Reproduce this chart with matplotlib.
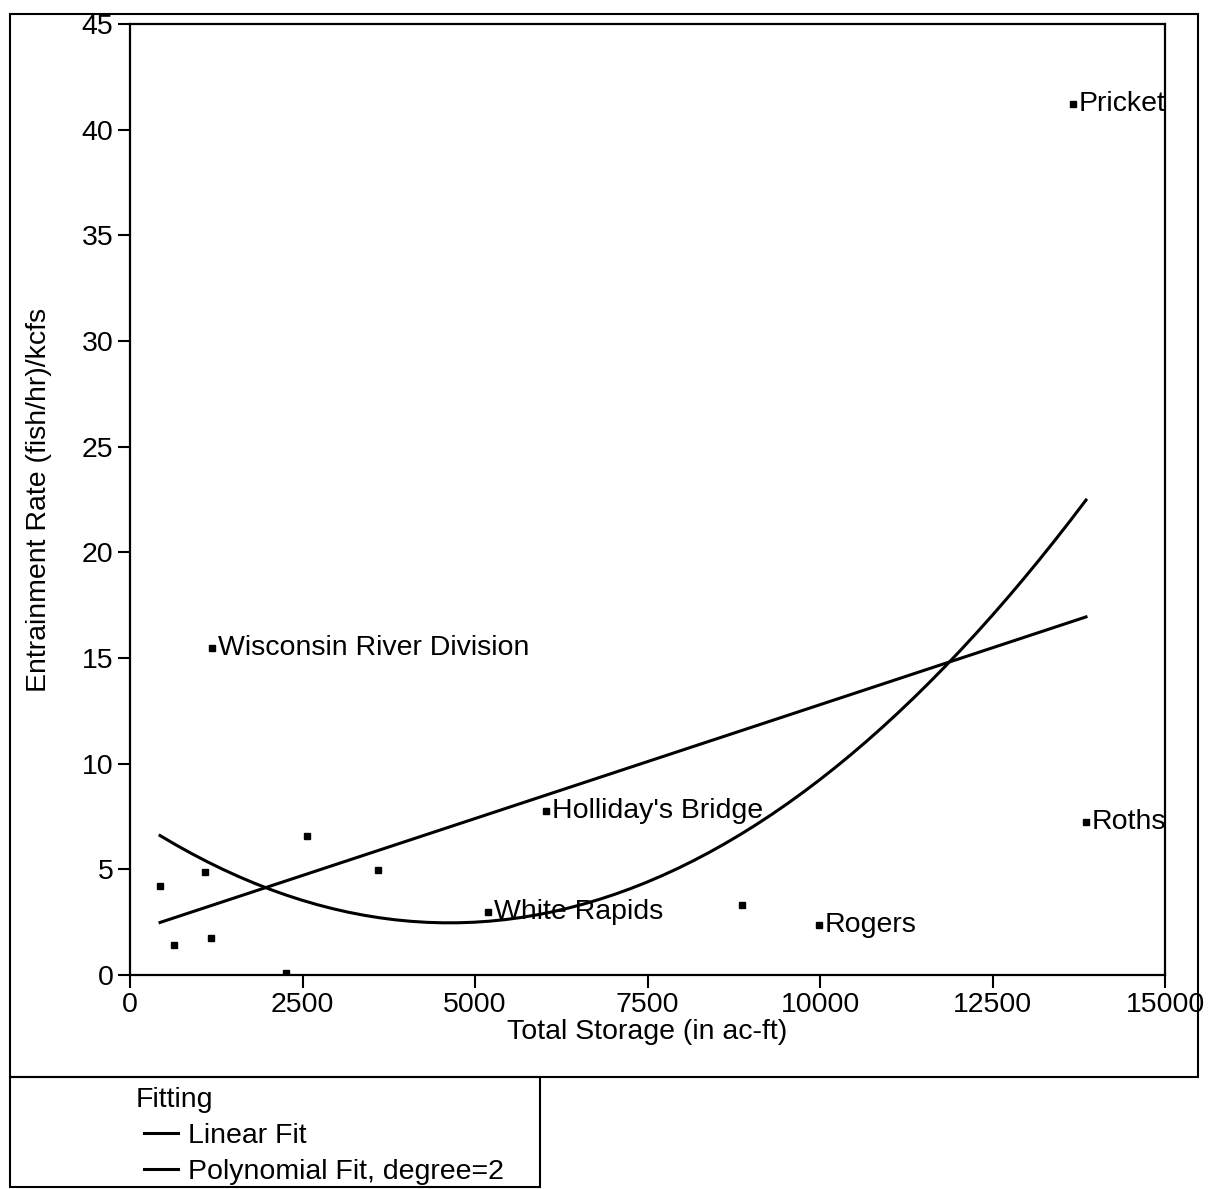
import numpy as np
import matplotlib
matplotlib.use("Agg")
import matplotlib.pyplot as plt
from matplotlib.patches import Rectangle

plt.rcParams['font.family'] = ['Liberation Sans', 'DejaVu Sans']

# Data
storage = [435, 638, 1087, 1174, 2261, 2565, 3594, 5188, 6029, 8870, 9986, 13855, 13667, 1188]
rate = [4.2, 1.42, 4.87, 1.75, 0.1, 6.58, 4.97, 2.98, 7.76, 3.31, 2.37, 7.24, 41.2, 15.48]
names = ["", "", "", "", "", "", "", "White Rapids", "Holliday's Bridge", "", "Rogers",
         "Roths", "Pricket", "Wisconsin River Division"]
x_ticks = [0, 2500, 5000, 7500, 10000, 12500, 15000]
y_ticks = [0, 5, 10, 15, 20, 25, 30, 35, 40, 45]

FS = 20.5
W, H = 1215, 1189
fig = plt.figure(figsize=(W / 100, H / 100), dpi=100)
ax = fig.add_axes([130 / W, 1 - 975 / H, (1165 - 130) / W, (975 - 24) / H])

x = np.array(storage, dtype=float)
y = np.array(rate, dtype=float)

ax.plot(x, y, linestyle='none', marker='s', markersize=3.8, color='black')
for xi, yi, nm in zip(x, y, names):
    if nm:
        ax.annotate(nm, (xi, yi), xytext=(4, 0), textcoords='offset points',
                    va='center', ha='left', fontsize=FS)

xs = np.linspace(x.min(), x.max(), 60)
lin = np.polyfit(x, y, 1)
quad = np.polyfit(x, y, 2)
l1, = ax.plot(xs, np.polyval(lin, xs), color='black', lw=2.2)
l2, = ax.plot(xs, np.polyval(quad, xs), color='black', lw=2.2)

ax.set_xlim(0, 15000)
ax.set_ylim(0, 45)
ax.set_xticks(x_ticks)
ax.set_yticks(y_ticks)
ax.tick_params(axis='both', direction='out', length=9, width=1.5, labelsize=FS, pad=3)
for s in ax.spines.values():
    s.set_linewidth(1.6)
ax.set_xlabel("Total Storage (in ac-ft)", fontsize=FS, labelpad=1)
ax.set_ylabel("Entrainment Rate (fish/hr)/kcfs", fontsize=FS, labelpad=21)

# outer frames
fig.patches.append(Rectangle((10 / W, 1 - 1077 / H), (1198 - 10) / W, (1077 - 14) / H,
                             transform=fig.transFigure, fill=False, lw=1.5, ec='black'))
fig.patches.append(Rectangle((10 / W, 1 - 1187 / H), (540 - 10) / W, (1187 - 1077) / H,
                             transform=fig.transFigure, fill=False, lw=1.5, ec='black'))

leg = fig.legend([l1, l2], ["Linear Fit", "Polynomial Fit, degree=2"], title="Fitting",
                 loc='upper left', bbox_to_anchor=(124 / W, 1 - 1067 / H), frameon=False,
                 alignment='left', handlelength=1.2, handletextpad=0.35, fontsize=FS,
                 title_fontsize=FS, labelspacing=0.35, borderpad=0.2)
leg.get_title().set_position((-8.5, 0))

fig.savefig("out.png", dpi=100)
